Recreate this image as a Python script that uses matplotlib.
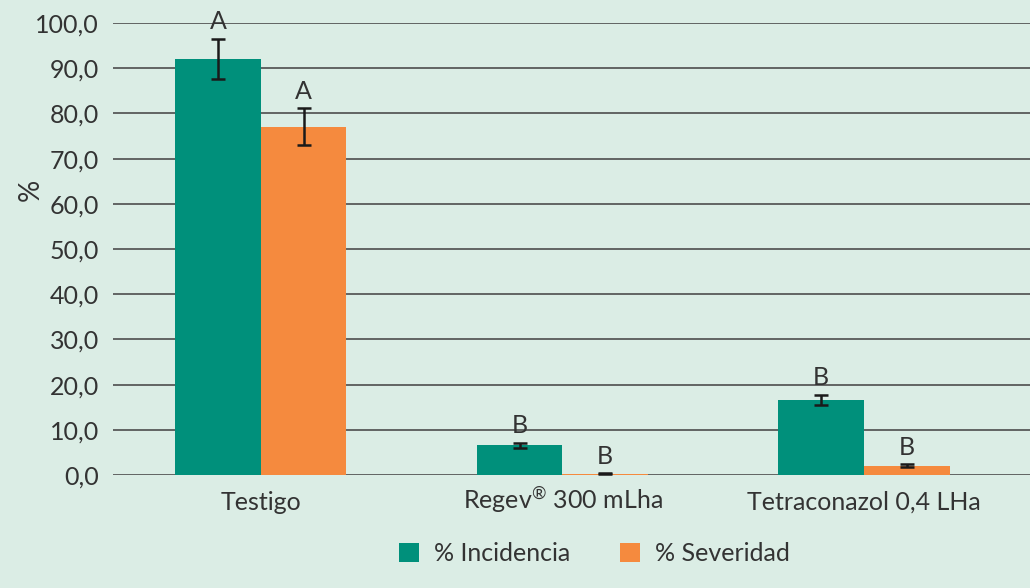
import matplotlib
matplotlib.use("Agg")
import matplotlib.pyplot as plt
import numpy as np

categories = ["Testigo", "Regev$^{®}$ 300 mLha", "Tetraconazol 0,4 LHa"]
incidencia = [92.0, 6.6, 16.7]
incidencia_err = [4.5, 0.6, 1.1]
severidad = [77.0, 0.3, 2.1]
severidad_err = [4.1, 0.15, 0.3]
letras_inc = ["A", "B", "B"]
letras_sev = ["A", "B", "B"]

bg = "#dbede5"
verde = "#00907b"
naranja = "#f58a3e"
texto = "#333333"

plt.rcParams['font.family'] = ['Lato', 'DejaVu Sans']
plt.rcParams['mathtext.fontset'] = 'custom'
plt.rcParams['mathtext.rm'] = 'Lato'

fig = plt.figure(figsize=(10.3, 5.88), dpi=100, facecolor=bg)
ax = fig.add_axes([0.1097, 0.192, 0.8903, 0.769])
ax.set_facecolor(bg)

x = np.arange(len(categories))
w = 0.284
b1 = ax.bar(x - w / 2, incidencia, w, color=verde, label="% Incidencia", zorder=3)
b2 = ax.bar(x + w / 2, severidad, w, color=naranja, label="% Severidad", zorder=3)
ax.errorbar(x - w / 2, incidencia, yerr=incidencia_err, fmt="none", ecolor="#1a1a1a",
            elinewidth=1.8, capsize=5, capthick=1.8, zorder=4)
ax.errorbar(x + w / 2, severidad, yerr=severidad_err, fmt="none", ecolor="#1a1a1a",
            elinewidth=1.8, capsize=5, capthick=1.8, zorder=4)

for xi, v, e, l in zip(x - w / 2, incidencia, incidencia_err, letras_inc):
    ax.annotate(l, (xi, v + e), xytext=(0, 4), textcoords="offset points",
                ha="center", va="bottom", fontsize=18, color=texto)
for xi, v, e, l in zip(x + w / 2, severidad, severidad_err, letras_sev):
    ax.annotate(l, (xi, v + e), xytext=(0, 4), textcoords="offset points",
                ha="center", va="bottom", fontsize=18, color=texto)

ax.set_ylim(0, 100)
ax.set_xlim(-0.49, 2.55)
ax.set_yticks(np.arange(0, 101, 10))
ax.set_yticklabels([f"{t:.1f}".replace(".", ",") for t in np.arange(0, 101, 10)])
ax.set_xticks(x)
ax.set_xticklabels(categories)
ax.tick_params(axis="both", length=0, labelsize=18, colors=texto)
ax.tick_params(axis="y", pad=10)
ax.tick_params(axis="x", pad=25)
for lab in ax.get_xticklabels():
    lab.set_va("baseline")
ax.yaxis.grid(True, color="#4d4d4d", linewidth=1.2, zorder=0)
for s in ax.spines.values():
    s.set_visible(False)

ax.set_ylabel("%", fontsize=20, color=texto)
ax.yaxis.set_label_coords(-0.075, 0.63)

fig.legend(handles=[b1, b2], loc="center", bbox_to_anchor=(0.577, 0.058), ncol=2,
           frameon=False, fontsize=18, handlelength=0.8, handleheight=0.8,
           columnspacing=2.0, handletextpad=0.6, labelcolor=texto)

fig.savefig("out.png", dpi=100, facecolor=bg)
